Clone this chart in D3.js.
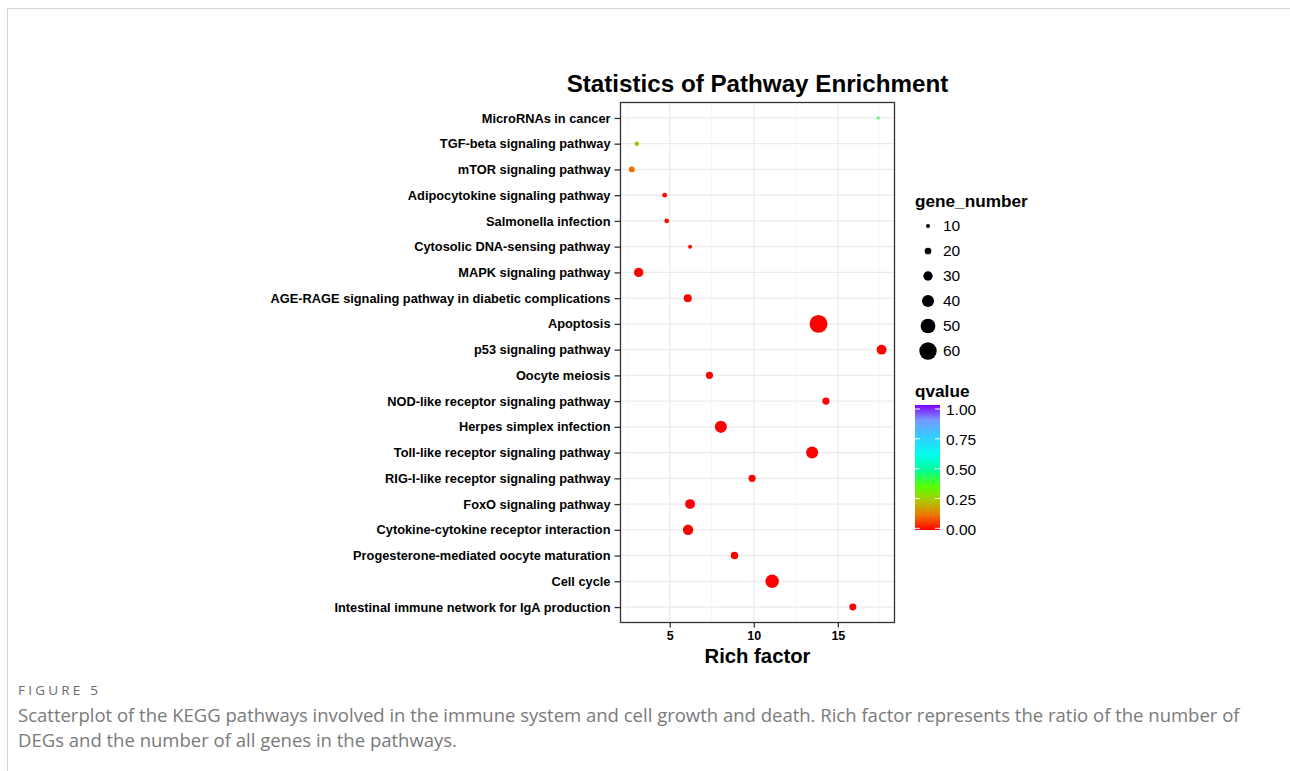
<!DOCTYPE html>
<html>
<head>
<meta charset="utf-8">
<script src="https://cdn.jsdelivr.net/npm/d3@7"></script>
<style>
  body { margin: 0; background: #fff; }
  #frame {
    position: absolute; left: 7px; top: 8px; width: 1300px; height: 800px;
    border-left: 1.5px solid #d6d6d6; border-top: 1.5px solid #d6d6d6;
  }
  #chart { position: absolute; left: 0; top: 0; }
  .fig-label {
    position: absolute; left: 18px; top: 681px;
    font-family: "Open Sans", sans-serif; font-size: 13.5px; letter-spacing: 3.2px; color: #6b6b6b;
  }
  .fig-caption {
    position: absolute; left: 18px; top: 702px; width: 1240px;
    font-family: "Open Sans", sans-serif; font-size: 18.5px; line-height: 25px; color: #7a7a7a;
  }
</style>
</head>
<body>
<div id="frame"></div>
<div id="chart"></div>
<div class="fig-label">FIGURE 5</div>
<div class="fig-caption">Scatterplot of the KEGG pathways involved in the immune system and cell growth and death. Rich factor represents the ratio of the number of DEGs and the number of all genes in the pathways.</div>

<script>
// pathways, top to bottom
let pathways = [
    "MicroRNAs in cancer",
    "TGF-beta signaling pathway",
    "mTOR signaling pathway",
    "Adipocytokine signaling pathway",
    "Salmonella infection",
    "Cytosolic DNA-sensing pathway",
    "MAPK signaling pathway",
    "AGE-RAGE signaling pathway in diabetic complications",
    "Apoptosis",
    "p53 signaling pathway",
    "Oocyte meiosis",
    "NOD-like receptor signaling pathway",
    "Herpes simplex infection",
    "Toll-like receptor signaling pathway",
    "RIG-I-like receptor signaling pathway",
    "FoxO signaling pathway",
    "Cytokine-cytokine receptor interaction",
    "Progesterone-mediated oocyte maturation",
    "Cell cycle",
    "Intestinal immune network for IgA production"
];
let richFactor = [17.4, 3.04, 2.74, 4.70, 4.82, 6.21, 3.15, 6.07, 13.85, 17.6,
                  7.36, 14.29, 8.04, 13.47, 9.90, 6.21, 6.09, 8.85, 11.09, 15.89];
let geneNumber = [5, 12, 17, 13, 13, 10, 30, 25, 62, 32,
                  22, 22, 40, 40, 22, 32, 34, 23, 45, 21];
let qValue = [0.42, 0.22, 0.11, 0.01, 0.01, 0.01, 0.0, 0.0, 0.0, 0.0,
              0.0, 0.0, 0.0, 0.0, 0.0, 0.0, 0.0, 0.0, 0.0, 0.0];

let xTicks = [5, 10, 15];
let sizeLegend = [10, 20, 30, 40, 50, 60];
let qTicks = [0, 0.25, 0.5, 0.75, 1];
let colorStops = [0, 0.12, 0.24, 0.35, 0.48, 0.60, 0.75, 0.88, 1];
let colorValues = ["#ff0000", "#ee7700", "#aacc00", "#55ff00", "#00ff99",
                   "#00ffee", "#33ccff", "#7799ff", "#7f00ff"];

let data = pathways.map((p, i) => ({
    pathway: p, rich: richFactor[i], genes: geneNumber[i], q: qValue[i]
}));

let font = "'Liberation Sans', Arial, sans-serif";

let svg = d3.select("#chart").append("svg")
    .attr("width", 1290)
    .attr("height", 771);

// panel
let panel = {left: 620.5, top: 102.5, width: 274, height: 520};

let x = d3.scaleLinear()
    .domain([2.07, 18.37])
    .range([panel.left, panel.left + panel.width]);

let y = d3.scalePoint()
    .domain(pathways)
    .range([panel.top, panel.top + panel.height])
    .padding(0.6);

let r = d3.scaleLinear()
    .domain([10, 60])
    .range([2, 8.7]);

let color = d3.scaleLinear()
    .domain(colorStops)
    .range(colorValues)
    .interpolate(d3.interpolateRgb);

// minor grid
let minorTicks = [2.5, 7.5, 12.5, 17.5];
svg.append("g").selectAll("line")
    .data(minorTicks)
    .join("line")
    .attr("x1", d => x(d)).attr("x2", d => x(d))
    .attr("y1", panel.top).attr("y2", panel.top + panel.height)
    .attr("stroke", "#f5f5f5").attr("stroke-width", 1);

// major grid
svg.append("g").selectAll("line")
    .data(xTicks)
    .join("line")
    .attr("x1", d => x(d)).attr("x2", d => x(d))
    .attr("y1", panel.top).attr("y2", panel.top + panel.height)
    .attr("stroke", "#ebebeb").attr("stroke-width", 1.2);

svg.append("g").selectAll("line")
    .data(pathways)
    .join("line")
    .attr("x1", panel.left).attr("x2", panel.left + panel.width)
    .attr("y1", d => y(d)).attr("y2", d => y(d))
    .attr("stroke", "#ebebeb").attr("stroke-width", 1.2);

// points
svg.append("g").selectAll("circle")
    .data(data)
    .join("circle")
    .attr("cx", d => x(d.rich))
    .attr("cy", d => y(d.pathway))
    .attr("r", d => Math.max(1.2, r(d.genes)))
    .attr("fill", d => color(d.q));

// panel border
svg.append("rect")
    .attr("x", panel.left).attr("y", panel.top)
    .attr("width", panel.width).attr("height", panel.height)
    .attr("fill", "none")
    .attr("stroke", "#333").attr("stroke-width", 1.3);

// axes
let xAxis = svg.append("g")
    .attr("transform", `translate(0,${panel.top + panel.height})`)
    .call(d3.axisBottom(x).tickValues(xTicks).tickSize(5).tickSizeOuter(0).tickPadding(4));

let yAxis = svg.append("g")
    .attr("transform", `translate(${panel.left},0)`)
    .call(d3.axisLeft(y).tickSize(6).tickSizeOuter(0).tickPadding(4));

[xAxis, yAxis].forEach(a => {
    a.select(".domain").remove();
    a.selectAll(".tick line").attr("stroke", "#333").attr("stroke-width", 1.3);
    a.selectAll("text")
        .attr("fill", "#000")
        .style("font-family", font)
        .style("font-weight", "bold")
        .style("font-size", "12.8px");
});
xAxis.selectAll("text").style("font-size", "12.5px");

// title
svg.append("text")
    .attr("x", panel.left + panel.width / 2)
    .attr("y", 92)
    .attr("text-anchor", "middle")
    .style("font-family", font)
    .style("font-weight", "bold")
    .style("font-size", "24.2px")
    .text("Statistics of Pathway Enrichment");

svg.append("text")
    .attr("x", panel.left + panel.width / 2)
    .attr("y", 663)
    .attr("text-anchor", "middle")
    .style("font-family", font)
    .style("font-weight", "bold")
    .style("font-size", "20.3px")
    .text("Rich factor");

// size legend
let legX = 915;
svg.append("text")
    .attr("x", legX).attr("y", 207)
    .style("font-family", font)
    .style("font-weight", "bold")
    .style("font-size", "17.2px")
    .text("gene_number");

let sizeItems = svg.append("g").selectAll("g")
    .data(sizeLegend)
    .join("g")
    .attr("transform", (d, i) => `translate(${legX + 13},${226 + i * 25})`);

sizeItems.append("circle")
    .attr("r", d => r(d))
    .attr("fill", "#000");

sizeItems.append("text")
    .attr("x", 15)
    .attr("dy", "0.35em")
    .style("font-family", font)
    .style("font-size", "15.5px")
    .text(d => d);

// qvalue colour bar
svg.append("text")
    .attr("x", legX).attr("y", 397)
    .style("font-family", font)
    .style("font-weight", "bold")
    .style("font-size", "17.2px")
    .text("qvalue");

let q = d3.scaleLinear().domain([0, 1]).range([528.3, 409]);

let grad = svg.append("defs").append("linearGradient")
    .attr("id", "qgrad")
    .attr("x1", 0).attr("y1", 1).attr("x2", 0).attr("y2", 0);

grad.selectAll("stop")
    .data(colorStops)
    .join("stop")
    .attr("offset", d => d)
    .attr("stop-color", (d, i) => colorValues[i]);

svg.append("rect")
    .attr("x", legX).attr("y", 405)
    .attr("width", 25).attr("height", 125)
    .attr("fill", "url(#qgrad)");

let qItems = svg.append("g").selectAll("g")
    .data(qTicks)
    .join("g")
    .attr("transform", d => `translate(${legX},${q(d)})`);

qItems.append("line").attr("x1", 0).attr("x2", 5).attr("stroke", "#fff").attr("stroke-width", 1);
qItems.append("line").attr("x1", 20).attr("x2", 25).attr("stroke", "#fff").attr("stroke-width", 1);

qItems.append("text")
    .attr("x", 31)
    .attr("dy", "0.4em")
    .style("font-family", font)
    .style("font-size", "15.5px")
    .text(d => d.toFixed(2));
</script>
</body>
</html>
